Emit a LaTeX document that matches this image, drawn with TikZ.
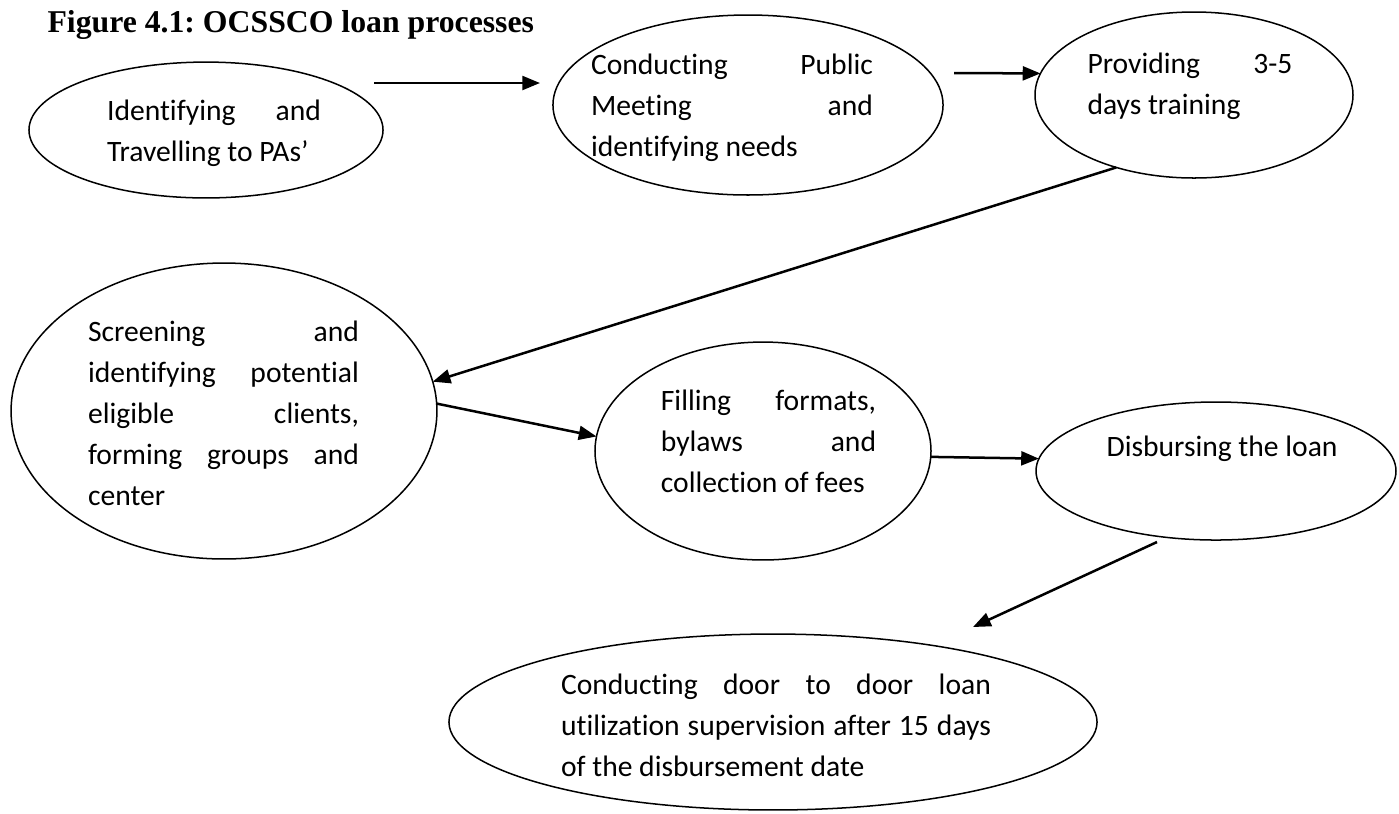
\documentclass[tikz,border=0pt]{standalone}
\usepackage{fontspec}
\setmainfont[Ligatures={TeX,NoCommon}]{Carlito}
\newfontfamily\titlefont{Liberation Serif}
\usetikzlibrary{shapes.geometric}
\usetikzlibrary{arrows.meta}
\frenchspacing

\begin{document}
\begin{tikzpicture}[x=0.3717pt, y=-0.3717pt,
  bubble/.style={draw=black, line width=0.56pt, ellipse, inner sep=0, outer sep=0},
  words/.style={inner sep=0, align=justify, font=\fontsize{11}{15.24}\selectfont,
    execute at begin node=\strut, execute at end node=\strut},
  flow/.style={black, line width=0.93pt, ->, >={Triangle[length=6.6pt,width=5.2pt]}}]
\useasboundingbox (0,0) rectangle (1399,813);
\node[anchor=base west, inner sep=0, font=\titlefont\fontsize{11.8}{14}\selectfont\bfseries] (title) at (47,32) {Figure 4.1: OCSSCO loan processes};

\node[bubble, minimum width=131.6pt, minimum height=50.5pt] (e1) at (206,130) {};
\node[bubble, minimum width=145.0pt, minimum height=66.9pt] (e2) at (748,105) {};
\node[bubble, minimum width=118.2pt, minimum height=61.7pt] (e3) at (1194,95) {};
\node[bubble, minimum width=158.3pt, minimum height=110.0pt] (e4) at (224,411) {};
\node[bubble, minimum width=124.9pt, minimum height=81.0pt] (e5) at (763,451) {};
\node[bubble, minimum width=133.8pt, minimum height=51.3pt] (e6) at (1216,471) {};
\node[bubble, minimum width=240.9pt, minimum height=65.4pt] (e7) at (773,722) {};

\node[words, text width=79.5pt] (t1) at (214,133) {Identifying and\linebreak Travelling to PAs'};
\node[words, text width=104.8pt] (t2) at (732,107) {Conducting Public\linebreak Meeting and\linebreak identifying needs};
\node[words, text width=76.2pt] (t3) at (1190,86) {Providing 3-5\linebreak days training};
\node[words, text width=100.7pt] (t4) at (223.5,415) {Screening and\linebreak identifying potential\linebreak eligible clients,\linebreak forming groups and\linebreak center};
\node[words, text width=80pt] (t5) at (768.5,443) {Filling formats,\linebreak bylaws and\linebreak collection of fees};
\node[words, text width=90pt, anchor=west] (t6) at (1106,448) {Disbursing the loan};
\node[words, text width=159.8pt] (t7) at (776,727) {Conducting door to door loan\linebreak utilization supervision after 15 days\linebreak of the disbursement date};

\coordinate (a1s) at (374,83);
\coordinate (a1e) at (540,83);
\coordinate (a2s) at (954,73);
\coordinate (a6s) at (1157,542);
\coordinate (a6e) at (973,627);
\draw[flow] (a1s) -- (a1e);
\draw[flow] (a2s) -- (e3.172);
\draw[flow] (e3.223) -- (e4.8);
\draw[flow] (e4.2) -- (e5.175);
\draw[flow] (e5.-2) -- (e6.176);
\draw[flow] (a6s) -- (a6e);
\end{tikzpicture}
\end{document}
